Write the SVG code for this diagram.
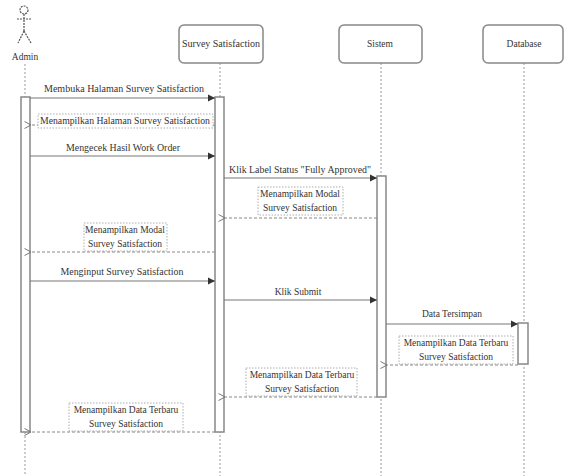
<svg xmlns="http://www.w3.org/2000/svg" width="564" height="476" viewBox="0 0 564 476" font-family="Liberation Serif, serif">
<style>
.t{font-size:9.5px;fill:#333;text-anchor:middle}
.box{fill:#fff;stroke:#888;stroke-width:1.5}
.life{stroke:#999;stroke-width:1;stroke-dasharray:2,2;fill:none}
.act{fill:#fff;stroke:#888;stroke-width:1.5}
.msg{stroke:#777;stroke-width:1.2;fill:none}
.ret{stroke:#888;stroke-width:1;stroke-dasharray:3,2;fill:none}
.lbl{fill:#fff;stroke:#999;stroke-width:0.8;stroke-dasharray:1.5,1.5}
</style>
<defs>
<marker id="solid" markerWidth="8" markerHeight="8" refX="7" refY="4" orient="auto" markerUnits="userSpaceOnUse">
<path d="M0,0.5 L7,4 L0,7.5 Z" fill="#333"/>
</marker>
<marker id="open" markerWidth="8" markerHeight="8" refX="0.5" refY="4" orient="auto" markerUnits="userSpaceOnUse">
<path d="M7,0.5 L0.5,4 L7,7.5" fill="none" stroke="#777" stroke-width="1"/>
</marker>
</defs>
<rect width="564" height="476" fill="#fff"/>
<g id="lifelines">
<line class="life" x1="25" y1="64" x2="25" y2="476"/>
<line class="life" x1="220" y1="63" x2="220" y2="476"/>
<line class="life" x1="381" y1="63" x2="381" y2="476"/>
<line class="life" x1="524" y1="63" x2="524" y2="476"/>
</g>
<g id="admin">
<g stroke="#555" stroke-width="1.2" fill="none" stroke-dasharray="2,1">
<circle cx="24" cy="10" r="4"/>
<line x1="24" y1="14" x2="24" y2="31"/>
<line x1="17" y1="19" x2="32" y2="19"/>
<line x1="24" y1="31" x2="18" y2="43"/>
<line x1="24" y1="31" x2="31" y2="43"/>
</g>
<text class="t" x="25" y="60" font-size="8.5">Admin</text>
</g>
<g id="survey">
<rect class="box" x="179" y="25" width="84" height="38" rx="5"/>
<text class="t" x="221" y="47" font-size="8.5" textLength="78" lengthAdjust="spacingAndGlyphs">Survey Satisfaction</text>
</g>
<g id="sistem">
<rect class="box" x="339" y="25" width="83" height="38" rx="5"/>
<text class="t" x="380" y="47" font-size="8.5">Sistem</text>
</g>
<g id="database">
<rect class="box" x="483" y="25" width="80" height="38" rx="5"/>
<text class="t" x="524" y="47" font-size="8.5">Database</text>
</g>
<g id="activations">
<rect class="act" x="21" y="97" width="9" height="335"/>
<rect class="act" x="215" y="97" width="9" height="335"/>
<rect class="act" x="377" y="176" width="9" height="221"/>
<rect class="act" x="518" y="323" width="10" height="41"/>
</g>
<g id="connectors">
<line class="msg" x1="30" y1="98" x2="215" y2="98" marker-end="url(#solid)"/>
<text class="t" x="124" y="92" textLength="160" lengthAdjust="spacingAndGlyphs">Membuka Halaman Survey Satisfaction</text>

<line class="ret" x1="215" y1="125" x2="31" y2="125" marker-end="url(#open)"/>
<rect class="lbl" x="38" y="114" width="175" height="14"/>
<text class="t" x="125" y="124" textLength="170" lengthAdjust="spacingAndGlyphs">Menampilkan Halaman Survey Satisfaction</text>

<line class="msg" x1="30" y1="156" x2="215" y2="156" marker-end="url(#solid)"/>
<text class="t" x="123" y="151" textLength="114" lengthAdjust="spacingAndGlyphs">Mengecek Hasil Work Order</text>

<line class="msg" x1="224" y1="178" x2="377" y2="178" marker-end="url(#solid)"/>
<text class="t" x="300" y="173" textLength="142" lengthAdjust="spacingAndGlyphs">Klik Label Status "Fully Approved"</text>

<line class="ret" x1="377" y1="218" x2="225" y2="218" marker-end="url(#open)"/>
<rect class="lbl" x="258" y="187" width="85" height="28"/>
<text class="t" x="300" y="197">Menampilkan Modal</text>
<text class="t" x="300" y="211">Survey Satisfaction</text>

<line class="ret" x1="215" y1="252" x2="31" y2="252" marker-end="url(#open)"/>
<rect class="lbl" x="84" y="223" width="83" height="28"/>
<text class="t" x="125" y="233">Menampilkan Modal</text>
<text class="t" x="125" y="247">Survey Satisfaction</text>

<line class="msg" x1="30" y1="281" x2="215" y2="281" marker-end="url(#solid)"/>
<text class="t" x="122" y="275" textLength="123" lengthAdjust="spacingAndGlyphs">Menginput Survey Satisfaction</text>

<line class="msg" x1="224" y1="300" x2="377" y2="300" marker-end="url(#solid)"/>
<text class="t" x="298" y="295">Klik Submit</text>

<line class="msg" x1="386" y1="324" x2="518" y2="324" marker-end="url(#solid)"/>
<text class="t" x="452" y="317">Data Tersimpan</text>

<line class="ret" x1="518" y1="365" x2="387" y2="365" marker-end="url(#open)"/>
<rect class="lbl" x="399" y="336" width="114" height="28"/>
<text class="t" x="456" y="346">Menampilkan Data Terbaru</text>
<text class="t" x="456" y="360">Survey Satisfaction</text>

<line class="ret" x1="377" y1="397" x2="225" y2="397" marker-end="url(#open)"/>
<rect class="lbl" x="246" y="368" width="111" height="28"/>
<text class="t" x="302" y="378">Menampilkan Data Terbaru</text>
<text class="t" x="302" y="392">Survey Satisfaction</text>

<line class="ret" x1="215" y1="432" x2="31" y2="432" marker-end="url(#open)"/>
<rect class="lbl" x="69" y="403" width="114" height="28"/>
<text class="t" x="126" y="413">Menampilkan Data Terbaru</text>
<text class="t" x="126" y="427">Survey Satisfaction</text>
</g>
</svg>
